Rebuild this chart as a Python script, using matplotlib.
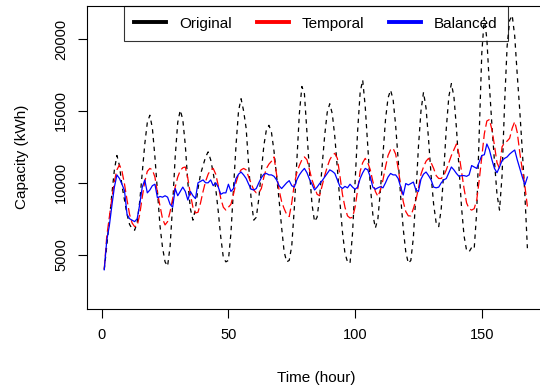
import matplotlib
matplotlib.use("Agg")
import matplotlib.pyplot as plt
import numpy as np

plt.rcParams["font.family"] = ["Liberation Sans", "DejaVu Sans"]

# hourly capacity (kWh), hours 1..168
original = [
    3950, 5600, 7400, 9200, 10900, 11900, 11200, 9800, 8800, 7800, 7100, 6800,
    6700, 7240, 8700, 10700, 12700, 14200, 14700, 13800, 11800, 9400, 7000, 5500,
    4500, 4200, 5600, 8500, 11800, 14200, 15050, 14400, 12600, 10000, 8200, 7400,
    8200, 9600, 10600, 11200, 11800, 12150, 11600, 10700, 9600, 8000, 6200, 4800,
    4500, 4600, 6500, 9500, 12600, 15000, 15850, 15000, 13800, 11200, 8800, 7400,
    7600, 8900, 10800, 12600, 13700, 14000, 13500, 12200, 10500, 8800, 6900, 5200,
    4500, 4600, 5600, 8200, 11500, 14800, 16700, 16200, 13500, 10800, 8500, 7300,
    7600, 9000, 11200, 13300, 14900, 15500, 14800, 13200, 11000, 8700, 6600, 5100,
    4500, 4400, 6500, 10000, 13600, 16300, 17150, 15300, 12500, 9800, 7800, 6850,
    7500, 9500, 12000, 14400, 15900, 16450, 15800, 14000, 11600, 9000, 6800, 5200,
    4400, 4600, 6200, 9200, 12500, 15000, 16300, 15200, 13000, 10500, 8500, 7200,
    6950, 8200, 10800, 13800, 16000, 16900, 16000, 13800, 11000, 8300, 6300, 5300,
    5200, 5500, 5400, 8000, 13500, 19000, 21500, 20000, 16800, 14000, 11500, 9200,
    8100, 10500, 15500, 19500, 21300, 21650, 20200, 17500, 15000, 12200, 9200, 5450,
]
temporal = [
    4000, 6300, 7600, 8900, 10100, 10900, 11250, 10800, 9900, 8800, 7800, 7200,
    6950, 7000, 7800, 9000, 10100, 10800, 11000, 10900, 10400, 9300, 8400, 7500,
    7070, 7300, 8000, 8900, 9700, 10400, 10850, 11050, 11100, 10300, 9200, 8300,
    7900, 7950, 8600, 9400, 10100, 10600, 10900, 11000, 10600, 9800, 8900, 8300,
    8100, 8300, 8500, 9200, 10000, 10600, 10900, 11000, 10900, 10400, 9950, 9500,
    9300, 9300, 9600, 10400, 11000, 11300, 11500, 11800, 10600, 9500, 8700, 8200,
    7800, 7650, 8600, 9900, 10700, 11200, 11600, 11800, 11600, 10900, 10200, 9700,
    9200, 9100, 9800, 10500, 11100, 11600, 11900, 12050, 11700, 10500, 9200, 8300,
    7700, 7550, 7600, 8300, 9500, 10800, 11400, 11700, 11400, 10900, 10100, 9400,
    9050, 9500, 10200, 11100, 11900, 12300, 12400, 12000, 11000, 9800, 8700, 8000,
    7700, 7700, 8200, 8800, 9600, 10600, 11100, 11500, 11700, 11400, 11000, 10500,
    10300, 10300, 10500, 10900, 11400, 11900, 12300, 12700, 12000, 10800, 9600, 8600,
    8200, 8100, 8200, 8800, 10200, 11800, 13400, 14300, 14400, 13700, 12600, 11400,
    11000, 12500, 12800, 12900, 13100, 13800, 14250, 13500, 12100, 10900, 9800, 8350,
]
balanced = [
    3950, 6000, 7000, 8400, 9700, 10550, 10300, 9900, 9450, 7800, 7500, 7400,
    7300, 7500, 8500, 9700, 10200, 9300, 9500, 9800, 9900, 8950, 9050, 9000,
    9100, 9000, 8500, 8300, 9600, 9100, 9400, 9700, 9400, 8800, 9400, 9100,
    8900, 10000, 10100, 10200, 10000, 10000, 10200, 9800, 10000, 9700, 9200, 9300,
    9300, 9900, 9400, 9600, 10300, 10600, 10750, 10550, 10300, 9900, 9550, 9500,
    9600, 10000, 10350, 10600, 10650, 10550, 10550, 10450, 10200, 9800, 9600, 9800,
    10000, 10150, 9800, 9700, 10200, 10550, 10800, 11000, 10700, 10250, 9900, 9500,
    9700, 9950, 10150, 10400, 10650, 10900, 10800, 10650, 10200, 9750, 9600, 9750,
    9650, 9900, 9700, 9550, 9700, 10300, 10700, 11000, 10900, 10400, 9700, 9550,
    9650, 9730, 9650, 10000, 10400, 10650, 10550, 10550, 10300, 9700, 9150, 9950,
    9850, 9950, 10050, 9500, 9400, 10250, 10600, 10750, 10500, 10200, 9700, 9650,
    9700, 10000, 10200, 10300, 10700, 11100, 10900, 10650, 10450, 10500, 10500, 10450,
    10550, 11200, 11100, 11000, 11450, 11900, 11950, 12700, 12300, 11600, 11000, 10700,
    11100, 11550, 11700, 11800, 12000, 12150, 12280, 11600, 11000, 10400, 9850, 10400,
]
series_names = ["Original", "Temporal", "Balanced"]
x_ticks = [0, 50, 100, 150]
y_ticks = [5000, 10000, 15000, 20000]

hours = np.arange(1, len(original) + 1)

fig = plt.figure(figsize=(5.4, 3.89), dpi=100)
ax = fig.add_axes([0.1617, 0.2049, 0.8463, 0.7797])

ax.plot(hours, original, color="black", lw=0.9, ls=(0, (3.5, 3.5)))
ax.plot(hours, temporal, color="red", lw=0.9, ls=(0, (7, 3)))
ax.plot(hours, balanced, color="blue", lw=0.9)

ax.set_xlim(-5.68, 174.68)
ax.set_ylim(1200, 22300)
ax.set_xticks(x_ticks)
ax.set_yticks(y_ticks)
ax.tick_params(direction="out", length=6.8, width=0.8, labelsize=10.5, pad=7)
for lab in ax.get_yticklabels():
    lab.set_rotation(90)
    lab.set_va("center")
for sp in ax.spines.values():
    sp.set_linewidth(0.8)

fig.text(316 / 540, 1 - 378 / 389, "Time (hour)", ha="center", va="center", fontsize=11)
fig.text(22.5 / 540, 1 - 157 / 389, "Capacity (kWh)", rotation=90,
         ha="center", va="center", fontsize=11)

handles = [
    plt.Line2D([], [], color=c, lw=2.8) for c in ["black", "red", "blue"]
]
leg = ax.legend(handles, series_names, loc="upper center", bbox_to_anchor=(0.5, 1.0),
                ncol=3, frameon=True, fancybox=False, borderaxespad=0,
                fontsize=11, handlelength=2.1, handletextpad=0.85,
                columnspacing=1.6, borderpad=0.7)
leg.get_frame().set_facecolor("none")
leg.get_frame().set_edgecolor("black")
leg.get_frame().set_linewidth(0.8)

fig.savefig("out.png", dpi=100)
